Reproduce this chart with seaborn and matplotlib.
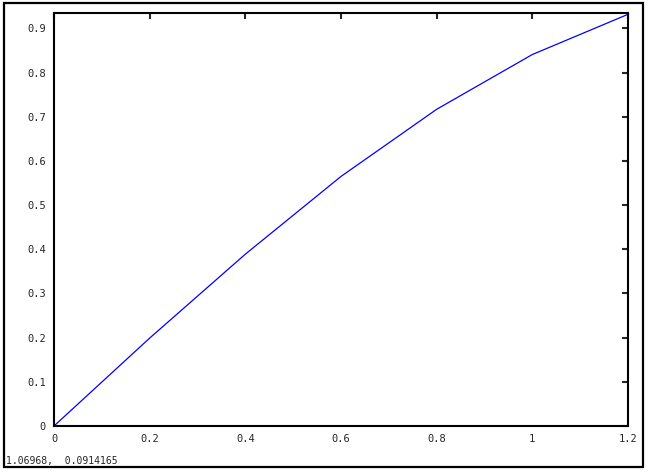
import numpy as np
import matplotlib.pyplot as plt
import seaborn as sns
import pandas as pd
from matplotlib.patches import Rectangle

sns.set_style('white')
plt.rcParams['font.family'] = ['DejaVu Sans Mono']

# sample points
x_vals = [0.0, 0.2, 0.4, 0.6, 0.8, 1.0, 1.2]
y_vals = [0.0, 0.199, 0.389, 0.565, 0.717, 0.841, 0.932]
x_ticks = [0, 0.2, 0.4, 0.6, 0.8, 1, 1.2]
y_ticks = [0, 0.1, 0.2, 0.3, 0.4, 0.5, 0.6, 0.7, 0.8, 0.9]
status_text = '1.06968,  0.0914165'

df = pd.DataFrame({'x': x_vals, 'y': y_vals})

W, H = 648, 473
fig = plt.figure(figsize=(W / 100, H / 100), dpi=100)

# window frame around the plot
fig.patches.append(Rectangle((3.5 / W, 1 - 467 / H), 639 / W, 463.5 / H,
                             transform=fig.transFigure, fill=False,
                             edgecolor='black', linewidth=1.6))

ax = fig.add_axes([54 / W, 1 - 426 / H, (628 - 54) / W, (426 - 13) / H])
sns.lineplot(data=df, x='x', y='y', ax=ax, color='blue', linewidth=0.9)

ax.set_xlim(0, 1.2)
ax.set_ylim(0, 0.935)
ax.set_xticks(x_ticks)
ax.set_xticklabels([f'{t:g}' for t in x_ticks])
ax.set_yticks(y_ticks)
ax.set_yticklabels([f'{t:g}' for t in y_ticks])
ax.set_xlabel('')
ax.set_ylabel('')
for s in ax.spines.values():
    s.set_linewidth(1.5)
    s.set_color('black')
ax.tick_params(direction='in', length=4, width=1.5, top=True, right=True,
               labelsize=7.5, pad=6)

fig.text(6 / W, 1 - 461 / H, status_text, fontsize=7, ha='left', va='center')
# window caption, mostly cut off by the top edge
fig.text(2 / W, 1 + 3 / H, 'Ctrl-Btn1 zoom      Fix details  type  nonsense',
         fontsize=7, ha='left', va='baseline')

fig.savefig('out.png', dpi=100)
